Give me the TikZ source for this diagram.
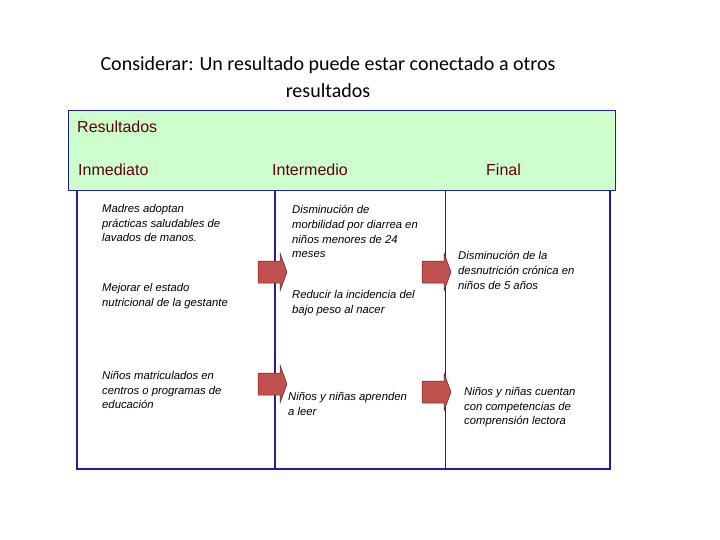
\documentclass[tikz,border=0pt]{standalone}
\usepackage{fontspec}
\setmainfont{Liberation Sans}
\newfontfamily\titlefnt{Carlito}
\definecolor{boxblue}{HTML}{1F1FA0}
\definecolor{lgreen}{HTML}{CCFFCC}
\definecolor{arr}{HTML}{C0504D}
\definecolor{maroon}{HTML}{600010}
\begin{document}
\begin{tikzpicture}[x=1pt,y=-1pt,
  cell/.style={anchor=north west,align=left,font=\fontsize{11.3}{14.8}\selectfont\itshape,inner sep=0pt},
  head/.style={anchor=west,font=\fontsize{16}{19}\selectfont,inner sep=0pt,text=maroon},
  blk/.style={fill=arr,draw=arr!50!black,line width=0.5pt}]
\useasboundingbox (0,0) rectangle (720,540);
\node[font=\titlefnt\fontsize{20}{27}\selectfont,align=center] (title) at (328,77) {Considerar: Un resultado puede estar conectado a otros\\resultados};
\draw[boxblue,line width=1.2pt] (77,190) rectangle (610,469);
\draw[boxblue,line width=1.2pt] (275,190) -- (275,469);
\draw[boxblue,line width=0.8pt] (445,190) -- (445,469);
\node[draw=boxblue,fill=lgreen,line width=1.2pt,minimum width=547,minimum height=80,anchor=north west,inner sep=0pt] (res) at (68,110) {};
\node[head] (rl) at (77,127) {Resultados};
\node[head] (h1) at (78,170) {Inmediato};
\node[head] (h2) at (272,170) {Intermedio};
\node[head] (h3) at (486,170) {Final};
\node[cell] (a1) at (102,204) {Madres adoptan\\prácticas saludables de\\lavados de manos.};
\node[cell] (a2) at (102,283) {Mejorar el estado\\nutricional de la gestante};
\node[cell] (a3) at (102,371) {Niños matriculados en\\centros o programas de\\educación};
\node[cell] (b1) at (292,205) {Disminución de\\morbilidad por diarrea en\\niños menores de 24\\meses};
\node[cell] (b2) at (292,290) {Reducir la incidencia del\\bajo peso al nacer};
\node[cell] (b3) at (288,392) {Niños y niñas aprenden\\a leer};
\node[cell] (c1) at (458,251) {Disminución de la\\desnutrición crónica en\\niños de 5 años};
\node[cell] (c2) at (464,387) {Niños y niñas cuentan\\con competencias de\\comprensión lectora};
\foreach \x/\y in {258/272,258/384,422/272,422/392}{
  \draw[blk] (\x,\y-11) -- (\x+22,\y-11) -- (\x+22,\y-19) -- (\x+29,\y) -- (\x+22,\y+19) -- (\x+22,\y+11) -- (\x,\y+11) -- cycle;}
\end{tikzpicture}
\end{document}
